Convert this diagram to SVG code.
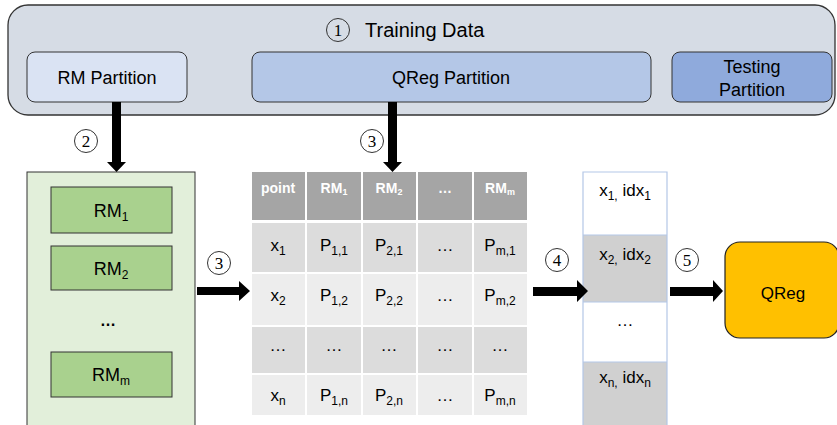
<svg xmlns="http://www.w3.org/2000/svg" width="837" height="425" viewBox="0 0 837 425">
<style>
.t{font-family:"Liberation Sans",Arial,sans-serif;fill:#000}
.c{font-family:"Liberation Serif","Times New Roman",serif;font-size:17px;fill:#000}
.circ{fill:none;stroke:#333;stroke-width:1}
.hd{font-family:"Liberation Sans",Arial,sans-serif;font-weight:bold;font-size:14px;fill:#fff}
.cell{font-family:"Liberation Sans",Arial,sans-serif;font-size:17px;fill:#000}
.arr{fill:#000}
</style>
<rect width="837" height="425" fill="#fff"/>
<g id="training">
<rect x="8" y="5" width="827" height="110" rx="20" fill="#d6dce5" stroke="#333" stroke-width="1.3"/>
<circle class="circ" cx="338" cy="30" r="11.5"/>
<text class="c" x="338" y="36" text-anchor="middle">1</text>
<text class="t" x="365" y="37" font-size="20">Training Data</text>
</g>
<g id="rm-partition">
<rect x="27" y="52" width="160" height="50" rx="8" fill="#dae3f3" stroke="#333" stroke-width="1"/>
<text class="t" x="107" y="84" font-size="18" text-anchor="middle">RM Partition</text>
</g>
<g id="qreg-partition">
<rect x="252" y="52" width="399" height="50" rx="8" fill="#b4c7e7" stroke="#333" stroke-width="1"/>
<text class="t" x="451" y="84" font-size="18" text-anchor="middle">QReg Partition</text>
</g>
<g id="testing-partition">
<rect x="672" y="52" width="160" height="50" rx="8" fill="#8faadc" stroke="#333" stroke-width="1"/>
<text class="t" x="752" y="73" font-size="18" text-anchor="middle">Testing</text>
<text class="t" x="752" y="96" font-size="18" text-anchor="middle">Partition</text>
</g>
<g id="rm-models">
<rect x="27" y="172" width="168" height="260" fill="#e2efda" stroke="#333" stroke-width="1"/>
<rect x="51" y="187" width="121" height="46" fill="#a9d18e" stroke="#333" stroke-width="1"/>
<text class="t" x="111" y="217" font-size="18" text-anchor="middle">RM<tspan font-size="12" dy="4">1</tspan></text>
<rect x="51" y="246" width="121" height="44" fill="#a9d18e" stroke="#333" stroke-width="1"/>
<text class="t" x="111" y="275" font-size="18" text-anchor="middle">RM<tspan font-size="12" dy="4">2</tspan></text>
<text class="t" x="108" y="326" font-size="16" font-weight="bold" text-anchor="middle">…</text>
<rect x="51" y="352" width="121" height="45" fill="#a9d18e" stroke="#333" stroke-width="1"/>
<text class="t" x="111" y="381" font-size="18" text-anchor="middle">RM<tspan font-size="12" dy="4">m</tspan></text>
</g>
<g id="table">
<g fill="#a5a5a5">
<rect x="252" y="172" width="53" height="48"/>
<rect x="307" y="172" width="54" height="48"/>
<rect x="363" y="172" width="53" height="48"/>
<rect x="418" y="172" width="54" height="48"/>
<rect x="474" y="172" width="53" height="48"/>
</g>
<g fill="#dcdcdc">
<rect x="252" y="223" width="53" height="49"/><rect x="307" y="223" width="54" height="49"/><rect x="363" y="223" width="53" height="49"/><rect x="418" y="223" width="54" height="49"/><rect x="474" y="223" width="53" height="49"/>
<rect x="252" y="327" width="53" height="46"/><rect x="307" y="327" width="54" height="46"/><rect x="363" y="327" width="53" height="46"/><rect x="418" y="327" width="54" height="46"/><rect x="474" y="327" width="53" height="46"/>
</g>
<g fill="#ededed">
<rect x="252" y="274" width="53" height="51"/><rect x="307" y="274" width="54" height="51"/><rect x="363" y="274" width="53" height="51"/><rect x="418" y="274" width="54" height="51"/><rect x="474" y="274" width="53" height="51"/>
<rect x="252" y="375" width="53" height="40"/><rect x="307" y="375" width="54" height="40"/><rect x="363" y="375" width="53" height="40"/><rect x="418" y="375" width="54" height="40"/><rect x="474" y="375" width="53" height="40"/>
</g>
<text class="hd" x="278" y="193" text-anchor="middle">point</text>
<text class="hd" x="334" y="193" text-anchor="middle">RM<tspan font-size="9" dy="2">1</tspan></text>
<text class="hd" x="389" y="193" text-anchor="middle">RM<tspan font-size="9" dy="2">2</tspan></text>
<text class="hd" x="445" y="193" text-anchor="middle">…</text>
<text class="hd" x="500" y="193" text-anchor="middle">RM<tspan font-size="9" dy="2">m</tspan></text>
<text class="cell" x="278" y="251" text-anchor="middle">x<tspan font-size="12" dy="4">1</tspan></text>
<text class="cell" x="334" y="251" text-anchor="middle">P<tspan font-size="12" dy="4">1,1</tspan></text>
<text class="cell" x="389" y="251" text-anchor="middle">P<tspan font-size="12" dy="4">2,1</tspan></text>
<text class="cell" x="445" y="251" text-anchor="middle">…</text>
<text class="cell" x="500" y="251" text-anchor="middle">P<tspan font-size="12" dy="4">m,1</tspan></text>
<text class="cell" x="278" y="301" text-anchor="middle">x<tspan font-size="12" dy="4">2</tspan></text>
<text class="cell" x="334" y="301" text-anchor="middle">P<tspan font-size="12" dy="4">1,2</tspan></text>
<text class="cell" x="389" y="301" text-anchor="middle">P<tspan font-size="12" dy="4">2,2</tspan></text>
<text class="cell" x="445" y="301" text-anchor="middle">…</text>
<text class="cell" x="500" y="301" text-anchor="middle">P<tspan font-size="12" dy="4">m,2</tspan></text>
<text class="cell" x="278" y="351" text-anchor="middle">…</text>
<text class="cell" x="334" y="351" text-anchor="middle">…</text>
<text class="cell" x="389" y="351" text-anchor="middle">…</text>
<text class="cell" x="445" y="351" text-anchor="middle">…</text>
<text class="cell" x="500" y="351" text-anchor="middle">…</text>
<text class="cell" x="278" y="401" text-anchor="middle">x<tspan font-size="12" dy="4">n</tspan></text>
<text class="cell" x="334" y="401" text-anchor="middle">P<tspan font-size="12" dy="4">1,n</tspan></text>
<text class="cell" x="389" y="401" text-anchor="middle">P<tspan font-size="12" dy="4">2,n</tspan></text>
<text class="cell" x="445" y="401" text-anchor="middle">…</text>
<text class="cell" x="500" y="401" text-anchor="middle">P<tspan font-size="12" dy="4">m,n</tspan></text>
</g>
<g id="sorted-list">
<rect x="583" y="172" width="84" height="63" fill="#fff"/>
<rect x="583" y="235" width="84" height="67" fill="#d0d0d0"/>
<rect x="583" y="302" width="84" height="60" fill="#fff"/>
<rect x="583" y="362" width="84" height="68" fill="#d0d0d0"/>
<g stroke="#b4c7e7" stroke-width="1.2" fill="none">
<path d="M583,430 V172 H667 V430"/>
<path d="M583,235 H667 M583,302 H667 M583,362 H667"/>
</g>
<text class="cell" x="625" y="196" text-anchor="middle">x<tspan font-size="12" dy="4">1,</tspan><tspan dy="-4"> idx</tspan><tspan font-size="12" dy="4">1</tspan></text>
<text class="cell" x="625" y="260" text-anchor="middle">x<tspan font-size="12" dy="4">2,</tspan><tspan dy="-4"> idx</tspan><tspan font-size="12" dy="4">2</tspan></text>
<text class="cell" x="625" y="326" text-anchor="middle">…</text>
<text class="cell" x="625" y="383" text-anchor="middle">x<tspan font-size="12" dy="4">n,</tspan><tspan dy="-4"> idx</tspan><tspan font-size="12" dy="4">n</tspan></text>
</g>
<g id="qreg">
<rect x="725" y="242" width="114" height="96" rx="15" fill="#ffc000" stroke="#222" stroke-width="1.2"/>
<text class="t" x="783" y="299" font-size="17" text-anchor="middle">QReg</text>
</g>
<g id="connectors">
<path class="arr" d="M112,102 H121 V162 H126 L116.5,172 L107,162 H112 Z"/>
<path class="arr" d="M388,102 H397 V162 H402 L392.5,172 L383,162 H388 Z"/>
<path class="arr" d="M197,287 H239 V281 L250,291 L239,301 V295 H197 Z"/>
<path class="arr" d="M533,287 H577 V280 L588,291 L577,302 V296 H533 Z"/>
<path class="arr" d="M670,287 H713 V280 L723,291 L713,302 V296 H670 Z"/>
<circle class="circ" cx="86" cy="141" r="11.5"/>
<text class="c" x="86" y="147" text-anchor="middle">2</text>
<circle class="circ" cx="372" cy="141" r="11.5"/>
<text class="c" x="372" y="147" text-anchor="middle">3</text>
<circle class="circ" cx="219" cy="263" r="11.5"/>
<text class="c" x="219" y="269" text-anchor="middle">3</text>
<circle class="circ" cx="557" cy="260" r="11.5"/>
<text class="c" x="557" y="266" text-anchor="middle">4</text>
<circle class="circ" cx="687" cy="260" r="11.5"/>
<text class="c" x="687" y="266" text-anchor="middle">5</text>
</g>
</svg>
